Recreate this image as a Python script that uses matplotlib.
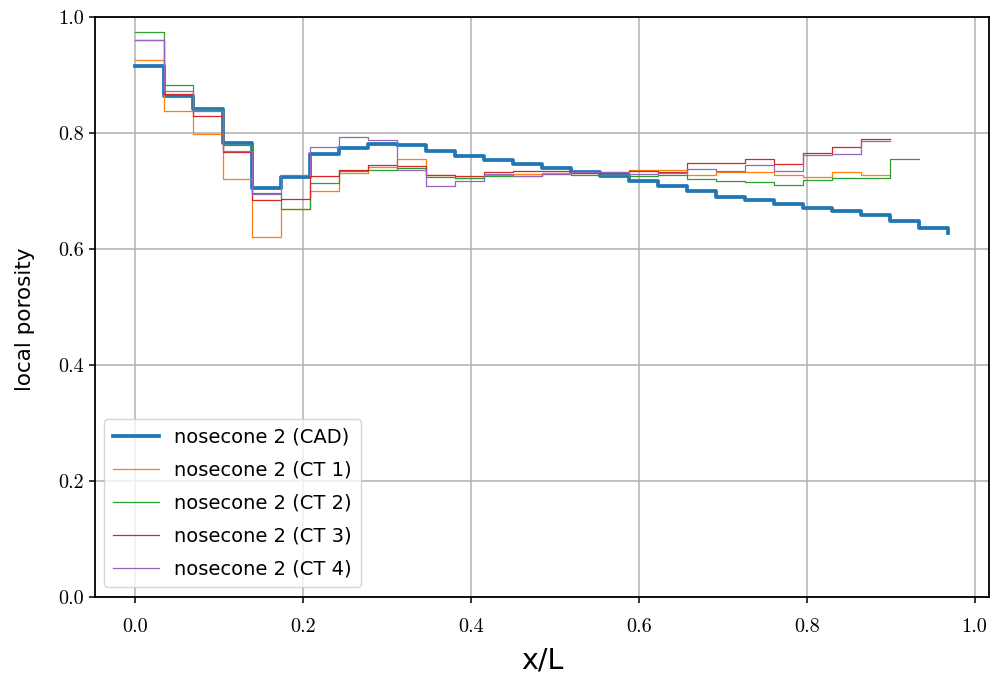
import numpy as np
import matplotlib
matplotlib.use("Agg")
import matplotlib.pyplot as plt

# bin width (x/L) of the step profiles
dx = 0.0346

cad = [0.915, 0.864, 0.841, 0.783, 0.706, 0.724, 0.764, 0.774, 0.781, 0.780,
       0.769, 0.761, 0.754, 0.747, 0.739, 0.732, 0.725, 0.717, 0.708, 0.700,
       0.690, 0.684, 0.677, 0.671, 0.666, 0.658, 0.649, 0.637, 0.628]
ct1 = [0.925, 0.838, 0.798, 0.720, 0.620, 0.669, 0.700, 0.731, 0.742, 0.756,
       0.727, 0.722, 0.727, 0.729, 0.731, 0.731, 0.733, 0.736, 0.737, 0.727,
       0.733, 0.733, 0.728, 0.724, 0.733, 0.728, 0.728]
ct2 = [0.974, 0.882, 0.842, 0.780, 0.697, 0.669, 0.713, 0.735, 0.737, 0.739,
       0.724, 0.723, 0.725, 0.726, 0.729, 0.727, 0.727, 0.726, 0.727, 0.720,
       0.718, 0.716, 0.710, 0.719, 0.723, 0.723, 0.755, 0.755]
ct3 = [0.960, 0.868, 0.829, 0.768, 0.685, 0.687, 0.725, 0.737, 0.745, 0.743,
       0.728, 0.725, 0.732, 0.734, 0.734, 0.731, 0.731, 0.734, 0.732, 0.748,
       0.749, 0.756, 0.746, 0.765, 0.775, 0.789, 0.789]
ct4 = [0.961, 0.872, 0.838, 0.769, 0.694, 0.727, 0.776, 0.793, 0.788, 0.736,
       0.708, 0.718, 0.729, 0.725, 0.730, 0.733, 0.732, 0.729, 0.731, 0.738,
       0.735, 0.744, 0.735, 0.762, 0.763, 0.786, 0.786]

labels = ["nosecone 2 (CAD)", "nosecone 2 (CT 1)", "nosecone 2 (CT 2)",
          "nosecone 2 (CT 3)", "nosecone 2 (CT 4)"]
xticks = [0.0, 0.2, 0.4, 0.6, 0.8, 1.0]
yticks = [0.0, 0.2, 0.4, 0.6, 0.8, 1.0]

fig = plt.figure(figsize=(9.95, 6.77), dpi=100)
ax = fig.add_axes([0.0952, 0.1182, 0.899, 0.8567])

series = [cad, ct1, ct2, ct3, ct4]
colors = ["#1f77b4", "#ff7f0e", "#2ca02c", "#d62728", "#9467bd"]
widths = [2.7, 0.9, 0.9, 0.9, 0.9]
for s, c, w, lab in zip(series, colors, widths, labels):
    x = np.arange(len(s)) * dx
    ax.step(x, s, where='post', color=c, lw=w, label=lab)

ax.set_xlim(-0.0485, 1.0175)
ax.set_ylim(0.0, 1.0)
ax.set_xticks(xticks)
ax.set_yticks(yticks)
ax.set_xticklabels([f"{t:.1f}" for t in xticks], family='cmr10', fontsize=14.5)
ax.set_yticklabels([f"{t:.1f}" for t in yticks], family='cmr10', fontsize=14.5)
ax.grid(True, color='#b0b0b0', lw=1.1)
ax.set_axisbelow(True)
for sp in ax.spines.values():
    sp.set_linewidth(1.3)
ax.tick_params(width=1.1, length=4)
ax.tick_params(axis='x', pad=11)

ax.set_xlabel("x/L", family='DejaVu Sans', fontsize=20.5)
ax.set_ylabel("local porosity", family='DejaVu Sans', fontsize=15.5)
ax.xaxis.set_label_coords(0.5, -0.085)
ax.yaxis.set_label_coords(-0.067, 0.478)

leg = ax.legend(loc='lower left', prop={'family': 'DejaVu Sans', 'size': 14},
                handlelength=2.35, labelspacing=0.715, borderpad=0.45)

fig.savefig("out.png", dpi=100)
